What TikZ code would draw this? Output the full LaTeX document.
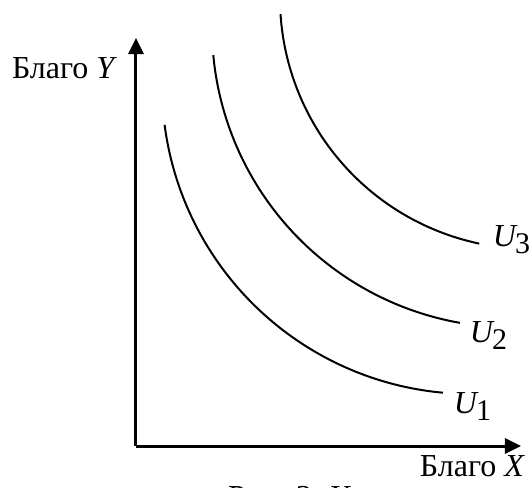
\documentclass[tikz,border=0pt]{standalone}
\usepackage{fontspec}
\setmainfont{Liberation Serif}
\usetikzlibrary{arrows.meta}
\tikzset{
  axis/.style={line width=1.5pt,-{Triangle[length=8pt,width=7.5pt]}},
  curve/.style={line width=1pt},
  lbl/.style={anchor=base west,inner sep=0pt,outer sep=0pt,font=\fontsize{16}{19}\selectfont},
}
\newcommand{\ulab}[1]{{\itshape U}\kern-0.5pt\raisebox{-3.5pt}{\fontsize{15}{15}\selectfont #1}}
\begin{document}
\begin{tikzpicture}[x=0.5pt,y=-0.5pt]
\useasboundingbox (0,0) rectangle (532,488);
\coordinate (O) at (136,446);
\coordinate (Ytip) at (136,38);
\coordinate (Xtip) at (521,446);
\draw[axis] (O) -- (Ytip);
\draw[axis] (O) -- (Xtip);
% indifference curves (circular arcs)
\draw[curve] plot[domain=172.6:95.2, samples=80, smooth] ({471+309*cos(\x)}, {85+309*sin(\x)});
\draw[curve] plot[domain=174.7:100, samples=80, smooth] ({512+300*cos(\x)}, {27.4+300*sin(\x)});
\draw[curve] plot[domain=176.3:101.9, samples=80, smooth] ({531+251*cos(\x)}, {-2+251*sin(\x)});
% labels
\node[lbl] (ly) at (12,78) {Благо \textit{Y}};
\node[lbl] (lx) at (420,476) {Благо \textit{X}};
\node[lbl] (u1) at (454,413) {\ulab{1}};
\node[lbl] (u2) at (470,342) {\ulab{2}};
\node[lbl] (u3) at (493,246) {\ulab{3}};
\node[lbl] (cap) at (228,507) {Рис. 3. К};
\end{tikzpicture}
\end{document}
